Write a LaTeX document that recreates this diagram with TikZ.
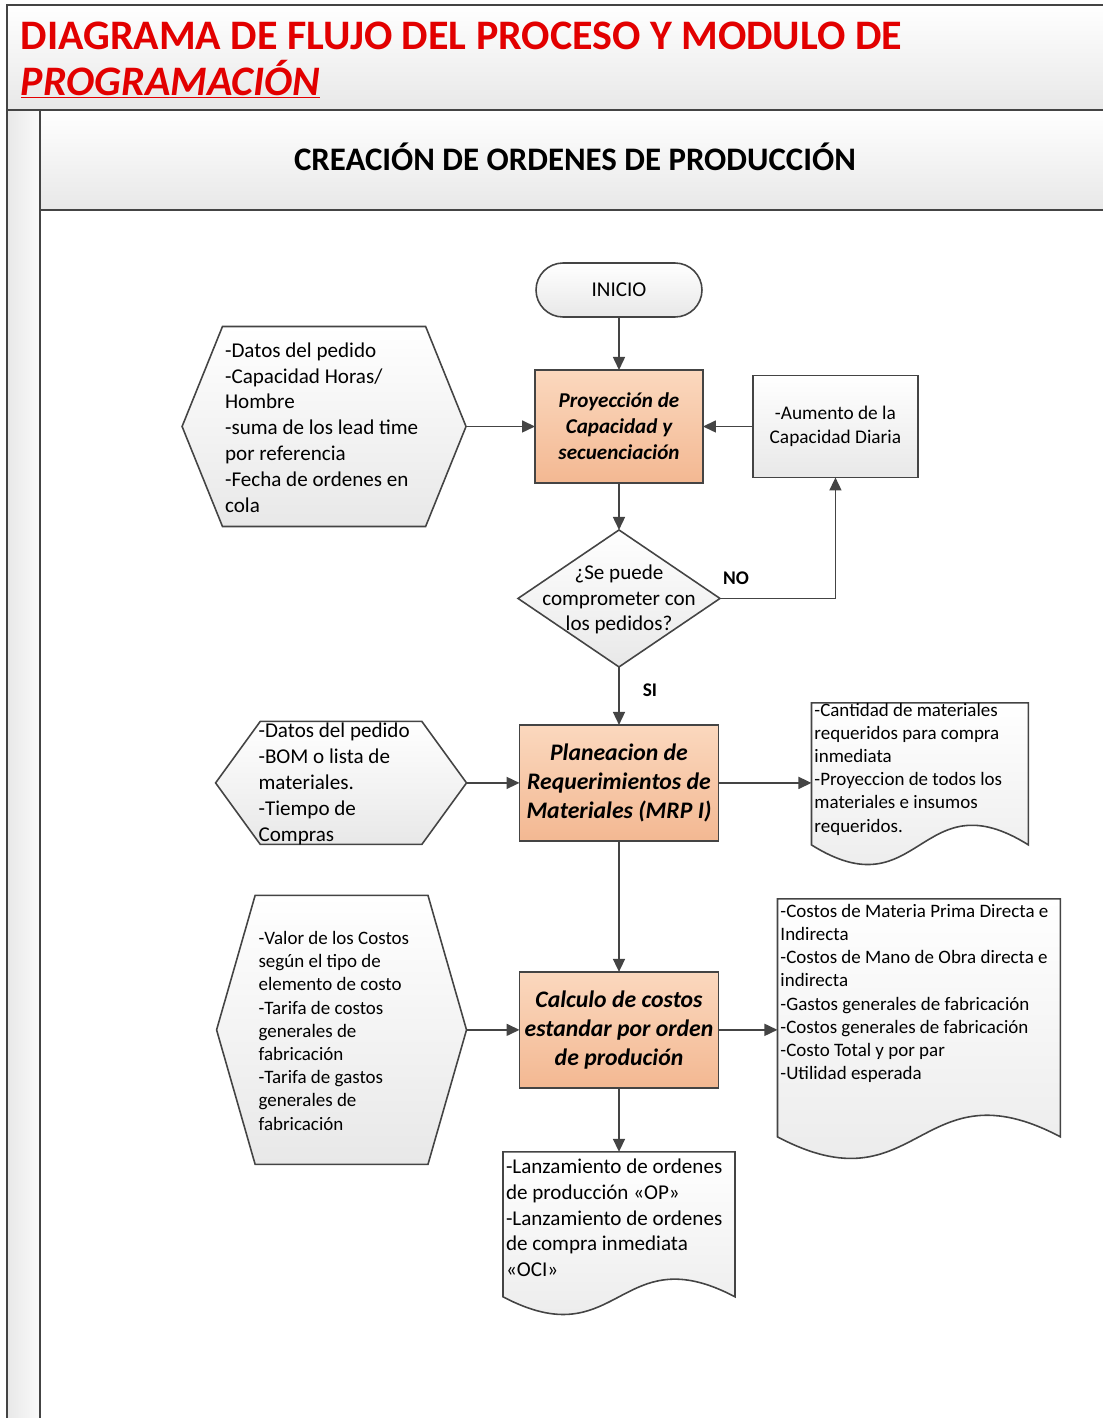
\documentclass[tikz,border=0pt]{standalone}
\usepackage{fontspec}
\setmainfont{Carlito}
\usepackage{xcolor}
\usetikzlibrary{shapes.geometric, shapes.symbols, arrows.meta, positioning, calc, backgrounds}

\definecolor{trazo}{RGB}{68,68,68}
\definecolor{rojo}{RGB}{226,0,0}
\definecolor{naranja1}{RGB}{251,216,190}
\definecolor{naranja2}{RGB}{243,184,146}
\definecolor{gris1}{RGB}{250,250,250}
\definecolor{gris2}{RGB}{232,232,232}

% text that does not count for the size of its shape
\newcommand{\plano}[2]{\raisebox{-.3em}[0pt][0pt]{\makebox[0pt]{\parbox[c]{#1}{#2}}}}

\begin{document}
\begin{tikzpicture}[
  x=0.02cm, y=-0.02cm,
  every node/.style={outer sep=0pt},
  inicio/.style={rectangle, draw=trazo, line width=0.9pt, rounded corners=0.54cm, top color=white, bottom color=gris2, minimum width=3.32cm, minimum height=1.08cm, font=\fontsize{12}{14.7}\selectfont},
  proc/.style={rectangle, draw=trazo, line width=0.9pt, top color=naranja1, bottom color=naranja2, align=center, inner sep=0pt, font=\bfseries\itshape\fontsize{12}{14.7}\selectfont},
  datos/.style={signal, signal to=west and east, draw=trazo, line width=0.9pt, top color=white, bottom color=gris2, inner sep=0pt, font=\fontsize{12}{14.7}\selectfont},
  decis/.style={diamond, draw=trazo, line width=0.9pt, top color=white, bottom color=gris2, inner sep=0pt, minimum width=4.04cm, minimum height=2.74cm, font=\fontsize{12}{14.7}\selectfont},
  nota/.style={rectangle, draw=trazo, line width=0.9pt, top color=white, bottom color=gris2, align=center, minimum width=3.3cm, minimum height=2.04cm, font=\fontsize{11}{13.6}\selectfont},
  docu/.style={rectangle, inner xsep=0.06cm, inner ysep=0pt, font=\fontsize{10.8}{13.2}\selectfont},
  lbl/.style={font=\bfseries\fontsize{11}{13}\selectfont, text=black},
  arr/.style={-{Triangle[length=0.26cm, width=0.24cm]}, draw=trazo, line width=0.9pt},
  marco/.style={draw=trazo, line width=1.2pt},
]
\useasboundingbox (0,0) rectangle (1103,1418);

% pool and lane
\fill[top color=white, bottom color=gris2] (7,5) rectangle (1103,110);
\fill[left color=gris2, right color=gris1] (7,110) rectangle (40,1418);
\fill[top color=white, bottom color=gris2] (40,110) rectangle (1103,210);
\draw[marco] (1103,5) -- (7,5) -- (7,1418);
\draw[marco] (7,110) -- (1103,110);
\draw[marco] (40,110) -- (40,1418);
\draw[marco] (40,210) -- (1103,210);

\node[anchor=base west, text=rojo, font=\bfseries\fontsize{23.9}{28}\selectfont] (titulo) at (15,49) {DIAGRAMA DE FLUJO DEL PROCESO Y MODULO DE};
\node[anchor=base west, text=rojo, font=\bfseries\itshape\fontsize{23.9}{28}\selectfont] (titulob) at (15,95) {\underline{PROGRAMACIÓN}};
\node[anchor=base, font=\bfseries\fontsize{18.7}{22}\selectfont] (carril) at (575,170) {CREACIÓN DE ORDENES DE PRODUCCIÓN};

% main column
\node[inicio] (inicio) at (619,290) {INICIO};
\node[proc, below=1.06cm of inicio, minimum width=3.36cm, minimum height=2.26cm] (proj) {Proyección de\\Capacidad y\\secuenciación};
\node[decis, below=0.94cm of proj] (decide) {\plano{3.4cm}{\centering ¿Se puede\\comprometer con\\los pedidos?}};
\node[proc, below=1.16cm of decide, minimum width=3.98cm, minimum height=2.32cm, font=\bfseries\itshape\fontsize{13.5}{16.4}\selectfont] (mrp) {Planeacion de\\Requerimientos de\\Materiales (MRP I)};
\node[proc, below=2.62cm of mrp, minimum width=3.98cm, minimum height=2.32cm, font=\bfseries\itshape\fontsize{13.5}{16.4}\selectfont] (costos) {Calculo de costos\\estandar por orden\\de produción};
\node[docu, below=1.28cm of costos, font=\fontsize{12}{14.7}\selectfont] (doclanz) {\parbox[c][2.9cm][t]{4.52cm}{\raggedright\vspace*{4pt}-Lanzamiento de ordenes\\de producción «OP»\\-Lanzamiento de ordenes\\de compra inmediata\\«OCI»}};

% inputs and outputs
\node[datos, left=1.38cm of proj, minimum width=5.68cm, minimum height=4cm, signal pointer angle=136] (datosa) {\plano{3.96cm}{\raggedright -Datos del pedido\\-Capacidad Horas/\\Hombre\\-suma de los lead time\\por referencia\\-Fecha de ordenes en\\cola}};
\node[nota, right=1cm of proj] (aumento) {-Aumento de la\\Capacidad Diaria};
\node[datos, left=1.06cm of mrp, minimum width=5.02cm, minimum height=2.46cm, signal pointer angle=108] (datosb) {\plano{3.3cm}{\raggedright -Datos del pedido\\-BOM o lista de\\materiales.\\-Tiempo de\\Compras}};
\node[docu, right=1.86cm of mrp.east, yshift=0.18cm] (docmat) {\parbox[c][2.84cm][t]{4.22cm}{\raggedright -Cantidad de materiales\\requeridos para compra\\inmediata\\-Proyeccion de todos los\\materiales e insumos\\requeridos.}};
\node[datos, left=1.06cm of costos, minimum width=5cm, minimum height=5.38cm, signal pointer angle=148, font=\fontsize{10.8}{13.2}\selectfont] (valores) {\plano{3.32cm}{\raggedright -Valor de los Costos\\según el tipo de\\elemento de costo\\-Tarifa de costos\\generales de\\fabricación\\-Tarifa de gastos\\generales de\\fabricación}};
\node[docu, right=1.18cm of costos.east, yshift=0.24cm] (doccost) {\parbox[c][4.76cm][t]{5.54cm}{\raggedright\vspace*{3pt}-Costos de Materia Prima Directa e\\Indirecta\\-Costos de Mano de Obra directa e\\indirecta\\-Gastos generales de fabricación\\-Costos generales de fabricación\\-Costo Total y por par\\-Utilidad esperada}};

% document outlines
\begin{scope}[on background layer]
\foreach \d/\a in {docmat/20, doccost/22, doclanz/18}
  \draw[draw=trazo, line width=0.9pt, top color=white, bottom color=gris2] (\d.north west) -- (\d.north east) -- (\d.south east) .. controls ($(\d.south)+(0,{-3.4*\a})$) and ($(\d.south)+(0,{3.4*\a})$) .. (\d.south west) -- cycle;
\end{scope}

\node[lbl] (no) at ([xshift=0.32cm, yshift=0.4cm]decide.east) {NO};
\node[lbl] (si) at ([xshift=0.62cm, yshift=-0.46cm]decide.south) {SI};

\draw[arr] (inicio) -- (proj);
\draw[arr] (datosa) -- (proj);
\draw[arr] (aumento) -- (proj);
\draw[arr] (proj) -- (decide);
\draw[arr] (decide.east) -| (aumento.south);
\draw[arr] (decide) -- (mrp);
\draw[arr] (datosb) -- (mrp);
\draw[arr] (mrp.east) -- (mrp.east -| docmat.west);
\draw[arr] (mrp) -- (costos);
\draw[arr] (valores) -- (costos);
\draw[arr] (costos.east) -- (costos.east -| doccost.west);
\draw[arr] (costos) -- (doclanz);
\end{tikzpicture}
\end{document}
